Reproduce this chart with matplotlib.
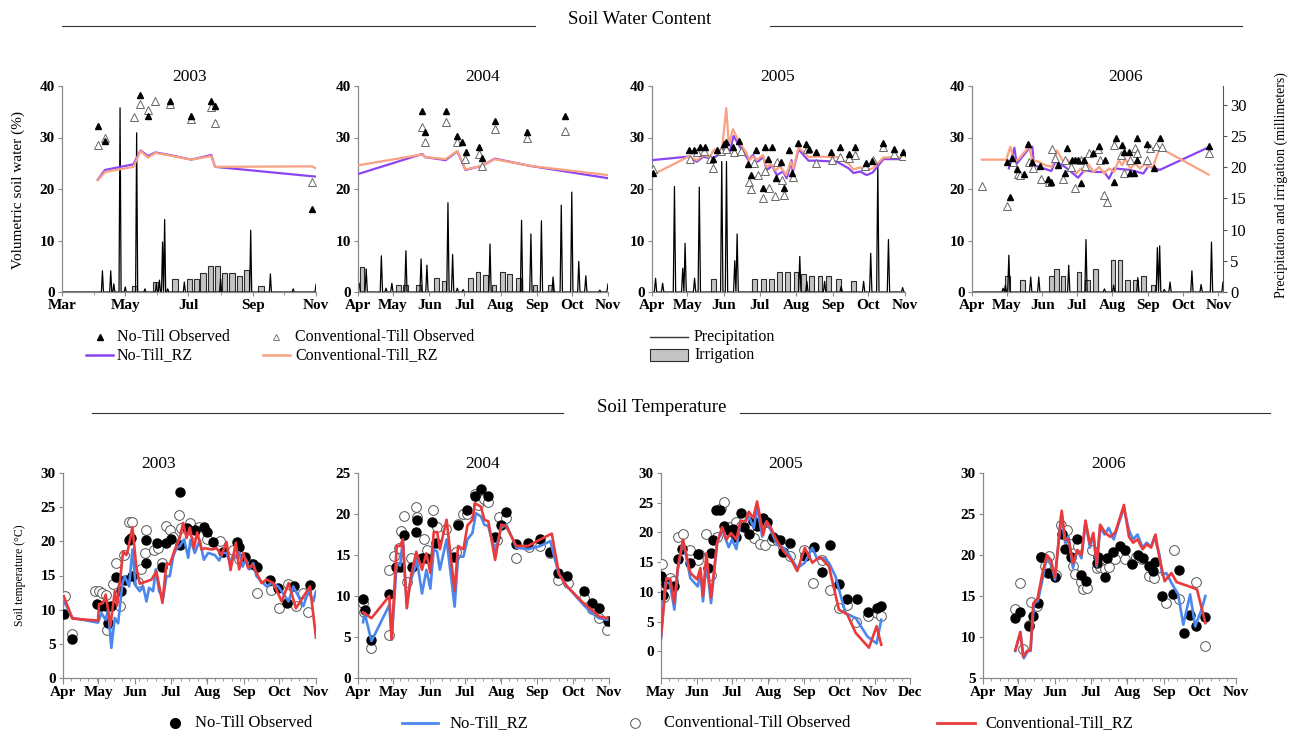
import numpy as np
import matplotlib
matplotlib.use("Agg")
import matplotlib.pyplot as plt
from matplotlib.lines import Line2D
from matplotlib.patches import Rectangle

plt.rcParams['font.family'] = ['Liberation Serif', 'DejaVu Serif']

W, H = 1293, 732

# ---------------- month positions (day of year) ----------------
month_names = ['Mar', 'Apr', 'May', 'Jun', 'Jul', 'Aug', 'Sep', 'Oct', 'Nov', 'Dec']
month_doy = [60, 91, 121, 152, 182, 213, 244, 274, 305, 335]

# ================= SOIL WATER CONTENT (%) =================
# 2003
swc03_nt_obs = [(94.5, 32.2), (101.5, 29.3), (135.7, 38.2), (143, 34.2), (164, 37.1), (184.6, 34.2),
                (204, 37.1), (207.6, 36.2), (301, 16.1)]
swc03_ct_obs = [(94.5, 28.6), (101.5, 29.9), (129, 33.9), (135.7, 36.5), (143, 35.3), (150, 37.1),
                (164, 36.5), (184.6, 33.5), (204, 36.0), (207.6, 32.9), (301, 21.3)]
swc03_nt_rz = [(94.5, 21.8), (101.5, 23.7), (129, 24.8), (135.7, 27.5), (143, 26.4), (150, 27.1),
               (164, 26.6), (184.6, 25.7), (204, 26.6), (207.6, 24.3), (305, 22.4)]
swc03_ct_rz = [(94.5, 21.7), (101.5, 23.3), (129, 24.3), (135.7, 27.4), (143, 26.1), (150, 27.0),
               (164, 26.5), (184.6, 25.7), (204, 26.4), (207.6, 24.3), (301, 24.4), (305, 24.0)]
prcp03 = [(99, 3.4), (107, 3.4), (110, 1.3), (116, 29.5), (121, 0.8), (132, 25.5), (140, 0.5), (151, 1.4),
          (154, 1.9), (157, 8.0), (159, 11.6), (162, 0.5), (178, 1.6), (213, 2.1), (242, 9.9), (261, 2.9),
          (283, 0.5), (305, 1.2)]
irr03 = [(130, 0.9), (150, 1.6), (169, 2.1), (183, 2.1), (189.5, 2.1), (196, 3.1), (203, 4.2), (210, 4.2),
         (217, 3.1), (224, 3.1), (231, 2.6), (238, 3.5), (252, 1.0)]

# 2004
swc04_nt_obs = [(146, 35.2), (148.3, 31.1), (166, 35.2), (176, 30.2), (180.3, 29.2), (183.7, 27.2),
                (195, 28.2), (197.4, 26.1), (208, 33.3), (235.7, 31.1), (268, 34.2)]
swc04_ct_obs = [(146, 32.0), (148.3, 29.2), (166, 33.1), (176, 29.2), (183, 25.8), (195, 26.7),
                (197.4, 24.5), (208, 31.7), (235.7, 30.0), (268, 31.3)]
swc04_nt_rz = [(91, 22.9), (146, 26.8), (148.3, 26.2), (166, 25.6), (176, 27.3), (183, 23.7),
               (197.4, 24.5), (208, 25.9), (238, 24.5), (305, 22.1)]
swc04_ct_rz = [(91, 24.6), (146, 26.7), (148.3, 26.2), (166, 25.8), (176, 27.4), (183, 23.8),
               (197.4, 24.5), (208, 25.8), (238, 24.5), (305, 22.7)]
prcp04 = [(92, 1.4), (98, 3.7), (111, 5.8), (115, 0.6), (120, 1.4), (132, 6.6), (145, 5.3), (150, 4.3),
          (168, 14.3), (172, 6.0), (176, 0.6), (181, 0.4), (204, 7.7), (231, 11.5), (239, 9.3), (248, 11.4),
          (258, 2.4), (265, 13.9), (274, 16.0), (280, 4.9), (286, 2.6), (298, 0.3), (305, 1.3)]
irr04 = [(94.4, 4.0), (126, 1.1), (132, 1.1), (143, 1.1), (158, 2.2), (164.6, 1.7), (187.4, 2.2),
         (193.7, 3.2), (200, 2.7), (207.4, 1.1), (214.5, 3.2), (221, 2.9), (228.5, 2.2), (242.5, 1.1),
         (256, 1.1)]

# 2005
swc05_nt_obs = [(91.6, 23.1), (122, 27.5), (126.8, 27.5), (131.8, 28.1), (136, 28.1), (143, 25.9),
                (146, 27.6), (151.5, 28.7), (153.8, 29.2), (159.4, 28.1), (165, 29.4), (172.4, 24.8),
                (174.6, 22.7), (178.6, 27.6), (185.3, 20.2), (186.5, 28.1), (189, 25.8), (192.7, 28.1),
                (195.5, 22.1), (200.5, 25.3), (202.8, 20.1), (207.3, 27.5), (209.8, 23.1), (214.6, 29.0),
                (221.4, 28.7), (223.6, 27.7), (229.5, 27.1), (242, 27.1), (250, 28.1), (257.4, 26.7),
                (263, 28.1), (272, 25.1), (276.9, 25.5), (286.7, 29.0), (295.7, 27.8), (303, 27.1)]
swc05_ct_obs = [(91.6, 23.9), (123.4, 25.8), (129, 27.1), (134.6, 27.3), (139.7, 25.8), (143, 24.0),
                (149.3, 27.3), (153.2, 27.7), (160, 27.1), (166.2, 27.3), (173, 21.3), (174.6, 20.0),
                (177.5, 25.1), (180.8, 22.7), (185.3, 18.2), (187, 23.4), (189.8, 20.1), (194.9, 18.7),
                (196.6, 25.3), (201, 21.8), (202.8, 18.9), (210, 22.3), (222, 27.7), (229.3, 25.1),
                (243.3, 25.6), (250, 26.3), (257.4, 26.0), (263, 26.6), (271.2, 24.4), (277.7, 25.6),
                (286.7, 28.1), (295.7, 26.7), (303, 26.4)]
swc05_nt_rz = [(91, 25.6), (122, 26.3), (129, 25.3), (134.6, 26.3), (141.7, 25.8), (148.7, 26.9),
               (153.2, 28.6), (156.6, 27.1), (160, 30.3), (165.6, 28.1), (172.7, 25.6), (176.3, 26.6),
               (180.3, 25.3), (185.3, 26.2), (188, 23.7), (192.7, 24.5), (196.6, 22.7), (201.7, 23.4),
               (205, 22.1), (209, 25.6), (210, 23.2), (215, 27.7), (223.3, 25.5), (230.4, 25.5),
               (247.3, 25.3), (257.4, 24.0), (261.4, 23.1), (267, 23.4), (272.6, 22.7), (277.7, 23.2),
               (286.7, 25.8), (305, 25.8)]
swc05_ct_rz = [(91, 22.7), (122, 26.3), (129, 25.6), (134.6, 26.6), (139.7, 26.2), (143.7, 27.7),
               (147.6, 27.3), (150.4, 28.1), (153.8, 35.7), (156, 28.7), (159.4, 31.6), (165, 29.0),
               (170.7, 27.1), (173.5, 25.6), (176.3, 26.3), (179.7, 25.6), (184.8, 26.6), (188, 24.2),
               (191.5, 24.9), (195.5, 23.6), (199.4, 24.4), (204.5, 22.7), (208.4, 25.3), (210.7, 24.0),
               (215, 28.1), (223.3, 26.2), (230.4, 26.3), (247.3, 26.2), (257.4, 24.9), (261.4, 23.8),
               (267, 24.2), (272.6, 23.7), (277.7, 24.0), (286.7, 26.1), (305, 26.2)]
prcp05 = [(94, 2.2), (100, 1.4), (110, 16.9), (117, 3.8), (119, 7.8), (127, 2.2), (131, 16.8), (150, 20.9),
          (154, 20.9), (161, 5.0), (163, 9.3), (216, 5.7), (222, 1.7), (237, 1.7), (251, 0.9), (270, 1.7),
          (276, 6.2), (282, 20.6), (291, 8.4), (303, 0.7)]
irr05 = [(143, 2.1), (177.7, 2.1), (185.3, 2.1), (191.8, 2.1), (198.9, 3.2), (205.6, 3.2), (212.7, 3.2),
         (219, 2.9), (226.2, 2.6), (233.2, 2.6), (240.2, 2.6), (248.7, 2.1), (261.4, 1.7)]

# 2006
swc06_nt_obs = [(121.3, 25.3), (123.6, 18.5), (125.9, 26.1), (129.8, 23.8), (136.3, 23.0), (140, 28.8),
                (142.9, 25.3), (149.7, 24.4), (157, 22.0), (159.9, 21.4), (166.1, 24.6), (171.8, 23.1),
                (173.8, 27.9), (178, 25.7), (180.8, 25.7), (183, 25.6), (186, 21.1), (188.2, 25.7),
                (195.9, 27.0), (201.5, 28.3), (206.3, 25.6), (214.3, 21.4), (216.5, 30.0), (221.4, 28.5),
                (222.8, 27.2), (227, 27.2), (228.4, 23.1), (231.3, 23.1), (234.1, 25.6), (234.7, 30.0),
                (242.6, 28.7), (248.9, 24.0), (254, 30.0), (296.5, 28.3)]
swc06_ct_obs = [(99.5, 20.5), (121.3, 16.7), (126.4, 25.3), (130.7, 23.0), (132.7, 22.7), (140.6, 25.3),
                (144.3, 24.0), (150.5, 22.0), (157.6, 21.4), (160.4, 27.7), (163.3, 26.1), (169.8, 22.0),
                (171.8, 25.6), (176.9, 24.3), (180.3, 20.1), (185.4, 25.6), (188.8, 24.4), (193, 27.0),
                (200.1, 27.7), (202.4, 25.7), (205.8, 18.8), (208.6, 17.5), (214.3, 28.5), (220.5, 26.6),
                (223.4, 23.1), (228.5, 25.6), (232.7, 27.9), (234.7, 26.9), (242.6, 25.6), (245.5, 27.9),
                (251.1, 28.3), (256.2, 28.1), (297, 27.0)]
swc06_nt_rz = [(123, 24.0), (127.8, 28.0), (129.8, 24.9), (140.6, 27.9), (143.4, 28.2), (144.8, 24.6),
               (159.9, 23.5), (163.3, 25.3), (171.8, 24.3), (183.1, 22.2), (188.8, 23.7), (197.3, 23.3),
               (205.8, 23.3), (210, 22.0), (214.3, 24.0), (228.5, 23.7), (239.8, 23.0), (244, 24.4),
               (254, 23.7), (296.5, 28.1)]
swc06_ct_rz = [(99.5, 25.7), (120.8, 25.7), (124.2, 28.2), (127.8, 25.3), (132, 25.9), (135.5, 26.9),
               (140.6, 28.2), (143.4, 25.6), (149, 25.3), (154.8, 24.6), (160.4, 24.3), (164.7, 27.5),
               (170.4, 25.3), (174.6, 25.6), (177.4, 24.0), (181.7, 23.0), (185.4, 24.0), (188.8, 23.3),
               (192.2, 24.8), (196.7, 23.3), (201.5, 24.3), (205.8, 23.0), (210, 24.0), (214.3, 23.3),
               (218.5, 25.6), (221.4, 24.6), (224.2, 25.9), (228.5, 24.0), (232.7, 24.9), (237, 24.0),
               (241.2, 24.9), (244, 24.3), (248.3, 24.3), (254, 28.0), (296.5, 22.8)]
prcp06 = [(91, 1.6), (118, 0.6), (120, 1.1), (123, 5.9), (142, 2.4), (149, 2.4), (175, 4.3), (190, 8.4),
          (206, 0.5), (214, 1.1), (235, 2.3), (252, 7.1), (254, 7.4), (258, 0.4), (263, 1.6), (282, 3.4),
          (290, 1.2), (299, 8.0)]
irr06 = [(121.9, 2.5), (135, 1.9), (159.9, 2.5), (164.4, 3.7), (170, 2.5), (184.2, 3.2), (191.3, 1.9),
         (198.1, 3.7), (213.4, 5.2), (219.4, 5.1), (225.9, 1.9), (233, 1.9), (239.8, 2.5), (248, 1.2)]

# ================= SOIL TEMPERATURE (deg C) =================
st03_nt_obs = [(91.6, 9.4), (98.9, 5.7), (119.8, 10.9), (123.5, 10.6), (127.1, 10.6), (129.1, 8.0),
               (131.4, 10.5), (136.2, 14.8), (140.4, 12.8), (143.2, 14.3), (146.6, 20.2), (148.9, 20.5),
               (149.7, 15.0), (161, 16.9), (161.6, 20.2), (170.6, 19.8), (174.6, 16.2), (178, 19.8),
               (182.7, 20.3), (189.8, 27.2), (189.8, 19.4), (195.5, 22.0), (202.5, 21.7), (210.1, 22.1),
               (212.4, 21.3), (218, 19.9), (226, 18.5), (237.8, 19.9), (240, 19.2), (244.9, 17.7),
               (251.9, 16.7), (254.7, 16.2), (266, 14.3), (273, 13.2), (280.7, 11.0), (286.3, 13.5),
               (299.9, 13.6)]
st03_ct_obs = [(92.4, 12.0), (98.9, 6.4), (117.8, 12.7), (121.5, 12.8), (124.3, 12.4), (127.1, 12.2),
               (128.3, 7.0), (133.3, 13.8), (135.6, 16.9), (139.5, 10.6), (142.4, 18.0), (146.9, 22.9),
               (149.7, 22.9), (154.5, 14.1), (157.3, 15.9), (160.4, 18.3), (161.6, 21.6), (167.8, 18.8),
               (171.5, 19.0), (174.6, 16.9), (178, 22.3), (181.9, 21.6), (184.2, 20.7), (189, 23.9),
               (191.2, 21.9), (198.3, 22.7), (201.7, 21.2), (206.2, 22.1), (213, 20.3), (223.7, 20.0),
               (234.4, 18.8), (240, 17.4), (249.6, 16.7), (254.7, 12.4), (266.6, 12.9), (273.9, 10.2),
               (281.6, 13.7), (287.8, 10.5), (294.3, 12.4), (298.5, 9.6)]
st03_nt_rz = [(91.6, 11.3), (98.9, 8.8), (120.6, 8.1), (123.5, 9.5), (127.1, 8.5), (129.1, 10.0),
              (131.9, 4.4), (134.8, 8.8), (137.6, 8.0), (141.3, 13.9), (143.2, 14.9), (146.9, 13.4),
              (149.7, 18.8), (152.5, 13.5), (155.9, 12.7), (158.8, 13.4), (161.6, 11.2), (163.8, 13.2),
              (167.2, 12.7), (169.5, 15.9), (172.3, 12.7), (175.7, 11.7), (178.5, 14.9), (181.3, 14.9),
              (184.2, 17.8), (187, 19.0), (189.8, 19.3), (193.5, 20.3), (196.9, 17.6), (198.8, 20.2),
              (202.5, 18.3), (206.7, 20.2), (210.1, 17.3), (213.8, 18.3), (219.4, 18.0), (223.1, 17.2),
              (226, 18.3), (229.3, 18.3), (232.2, 16.8), (235, 18.0), (237.8, 17.6), (240, 18.4),
              (242.9, 16.3), (245.7, 17.4), (248.5, 15.9), (251.9, 16.8), (254.7, 14.9), (259, 14.1),
              (263.2, 13.4), (267.4, 13.9), (273, 13.4), (277.9, 12.2), (281.8, 11.2), (285.8, 13.4),
              (290, 12.0), (294.3, 10.5), (298.5, 12.7), (302.7, 11.2), (305, 12.7)]
st03_ct_rz = [(91.6, 12.0), (98.9, 8.7), (120.6, 8.4), (121.5, 10.8), (124.9, 11.0), (127.1, 12.2),
              (129.1, 10.0), (131.1, 7.6), (134.8, 12.7), (136.7, 10.6), (139.5, 14.6), (141.8, 18.5),
              (144.6, 18.0), (146, 18.8), (149.7, 22.1), (153.1, 16.1), (155.9, 13.8), (161, 14.1),
              (165.8, 14.4), (170, 15.6), (175.1, 11.0), (178.5, 16.8), (181.3, 16.6), (185.6, 18.8),
              (189.8, 20.5), (192.6, 22.7), (195.5, 20.5), (198.3, 22.0), (201.7, 19.0), (204.5, 21.3),
              (208.2, 18.8), (211, 19.0), (216.6, 18.8), (220.9, 19.0), (225.1, 18.0), (229.3, 19.9),
              (232.7, 15.8), (237.2, 19.8), (240, 15.9), (243.4, 18.3), (247.7, 16.1), (251.3, 16.6),
              (254.7, 15.4), (259, 13.9), (263.2, 14.4), (268.9, 13.9), (276, 11.2), (281.8, 13.9),
              (288, 10.2), (299.9, 13.4), (305, 5.9)]

st04_nt_obs = [(95.3, 9.6), (96.7, 8.3), (102.5, 4.6), (117.7, 10.3), (123.5, 13.5), (127, 13.5),
               (130.3, 17.4), (137, 13.5), (140.4, 17.8), (141.3, 19.3), (145.6, 14.6), (148.7, 14.6),
               (154.5, 19.0), (157.3, 16.5), (172.8, 14.8), (176.3, 18.6), (184.3, 20.5), (190.7, 22.2),
               (195.8, 23.0), (202.1, 22.2), (207.9, 17.2), (212.5, 18.6), (217.4, 20.2), (226, 16.4),
               (236, 16.5), (246.4, 16.9), (255, 15.4), (261.9, 12.8), (269.1, 12.4), (283.4, 10.6),
               (290.6, 9.2), (296.4, 8.5), (304.1, 6.9)]
st04_ct_obs = [(95.3, 9.2), (96.2, 8.0), (102.5, 3.7), (117.7, 5.3), (117.7, 13.2), (121.7, 14.9),
               (125.8, 15.9), (128, 17.9), (130.3, 19.8), (133.2, 11.7), (136.4, 14.6), (140.7, 20.9),
               (141.3, 19.6), (147, 16.9), (149.9, 15.6), (155, 20.5), (158.5, 18.4), (166.1, 18.2),
               (174.3, 15.4), (176.6, 18.8), (180.9, 20.0), (184.3, 20.0), (190.7, 22.5), (193.5, 21.1),
               (198.1, 21.8), (201.6, 21.5), (209.6, 16.8), (211.6, 19.6), (217.4, 19.5), (226, 14.6),
               (236.9, 16.0), (246.4, 16.1), (255, 15.3), (261.9, 12.0), (269.9, 11.6), (283.4, 9.8),
               (290.6, 8.4), (296.4, 7.3), (303.5, 5.9)]
st04_nt_rz = [(95.3, 6.8), (96.7, 7.9), (102.5, 4.5), (117.7, 8.9), (119.7, 4.7), (124, 14.0), (127, 13.7),
              (129.2, 16.9), (132.6, 8.9), (135.5, 11.6), (141.3, 14.3), (145.6, 10.3), (149.3, 13.2),
              (152.7, 10.9), (155.6, 15.7), (158.5, 15.4), (160.8, 13.2), (166.5, 16.9), (173.4, 8.7),
              (176.3, 14.8), (180.9, 14.8), (184.3, 16.9), (188.6, 17.7), (191.5, 20.1), (195.8, 19.7),
              (198.7, 18.7), (202.1, 18.5), (207.9, 15.4), (213.1, 18.3), (217.4, 18.7), (226, 15.9),
              (236, 15.7), (246.4, 16.1), (255, 16.7), (261.9, 12.8), (269.1, 11.2), (283.4, 8.9),
              (290.6, 7.9), (296.4, 7.3), (303.5, 7.1)]
st04_ct_rz = [(95.3, 8.0), (102.5, 7.3), (117.7, 10.0), (119.7, 4.7), (124, 16.1), (127, 16.1),
              (129.2, 16.9), (132.6, 8.5), (136.1, 12.4), (140.7, 15.4), (145.6, 13.2), (149.3, 15.2),
              (152.7, 12.8), (155.6, 17.8), (158.5, 17.8), (160.8, 15.7), (166.5, 19.3), (173.4, 10.6),
              (176.3, 16.1), (180.9, 15.7), (184.3, 18.6), (188.6, 19.3), (190.7, 21.3), (195.8, 20.9),
              (198.7, 19.3), (202.1, 19.1), (207.9, 14.4), (213.1, 18.7), (217.4, 18.5), (226, 16.1),
              (236, 16.1), (246.4, 16.9), (256.2, 17.6), (262.5, 12.6), (269.1, 11.2), (283.4, 9.1),
              (290.6, 8.3), (296.4, 7.5), (303.5, 7.3)]

st05_nt_obs = [(121, 12.6), (122.7, 9.5), (125.6, 11.4), (131.9, 10.9), (135.3, 15.5), (139.1, 17.2),
               (146.2, 14.9), (152.6, 16.4), (161.2, 14.0), (164, 16.5), (165.8, 18.8), (168.6, 23.7),
               (172.1, 23.7), (175.5, 21.1), (180.7, 20.2), (183, 20.5), (185.8, 19.3), (189.9, 23.2),
               (192.7, 20.9), (196.5, 19.7), (200.2, 22.0), (203.6, 21.0), (208.8, 22.4), (212.2, 21.7),
               (217.4, 19.3), (223.1, 18.8), (226, 16.7), (231.7, 18.2), (244.6, 16.0), (252.4, 17.5),
               (259.6, 13.3), (266.2, 17.9), (273.9, 11.4), (281.1, 8.8), (289.1, 8.8), (298.9, 6.6),
               (306.3, 7.3), (310.3, 7.7)]
st05_ct_obs = [(121.9, 14.7), (123.9, 9.1), (128.5, 12.3), (131.3, 11.8), (135.3, 19.2), (139.9, 19.8),
               (145.7, 17.0), (152.6, 15.4), (154, 16.4), (160, 19.8), (164, 12.9), (169.2, 19.3),
               (172.6, 24.1), (175.5, 25.1), (179.2, 20.9), (185.8, 21.7), (189.9, 21.1), (196.5, 20.9),
               (200.8, 19.1), (205.9, 18.1), (210.8, 17.8), (216.5, 18.8), (220.3, 18.7), (226, 17.5),
               (231.7, 16.1), (243.8, 17.1), (251.8, 11.5), (259.6, 15.3), (266.2, 10.3), (273.9, 7.3),
               (281.1, 7.8), (288.3, 4.9), (298.9, 5.9), (306.3, 6.4), (310.3, 5.9)]
st05_nt_rz = [(121, 2.0), (124.7, 11.5), (128.5, 11.5), (132.5, 7.0), (135.3, 13.5), (139.9, 18.7),
              (146.2, 12.3), (152.6, 10.9), (154.9, 13.2), (157.1, 8.4), (160, 15.0), (164, 8.1),
              (169.2, 18.2), (173.5, 20.5), (179.2, 17.5), (182.1, 18.8), (185.8, 17.2), (189.3, 21.9),
              (193.6, 21.9), (196.5, 22.7), (200.8, 20.7), (203.6, 24.4), (208, 19.3), (210.8, 21.6),
              (215.1, 20.5), (220.8, 17.9), (226.6, 17.4), (230.9, 16.3), (238.1, 14.0), (244.6, 14.9),
              (251, 17.4), (255.3, 15.5), (261, 15.7), (265.3, 14.9), (271, 12.6), (274.8, 9.8),
              (279.7, 6.4), (288.3, 5.6), (298.3, 2.5), (306.3, 1.3), (310.3, 5.3)]
st05_ct_rz = [(121, 2.5), (125.6, 12.3), (129, 12.1), (132.5, 8.1), (135.3, 14.0), (139.9, 18.8),
              (146.2, 13.2), (152, 12.1), (154.9, 14.0), (157.1, 9.3), (160, 16.5), (164, 9.0),
              (169.2, 18.2), (173.5, 20.9), (177.2, 18.8), (181.2, 19.9), (185.8, 18.8), (189.3, 21.9),
              (193.6, 21.9), (196.5, 23.5), (200.2, 22.4), (203.6, 25.2), (208.8, 19.6), (211.7, 21.9),
              (215.1, 20.9), (220.8, 18.5), (226.6, 16.8), (232.9, 15.4), (238.1, 13.5), (244.6, 17.4),
              (251, 14.9), (257.6, 15.9), (265.3, 14.3), (273.9, 7.0), (281.1, 6.2), (288.3, 3.1),
              (299.7, 0.6), (306.3, 4.2), (310.3, 1.1)]

st06_nt_obs = [(118.3, 12.3), (122.6, 13.1), (129.8, 11.3), (133.5, 12.6), (137.5, 14.1), (139.8, 19.8),
               (145.6, 17.8), (151.9, 17.3), (157.6, 22.6), (160.5, 20.7), (165.1, 19.8), (170.8, 22.0),
               (173.7, 17.6), (177.7, 16.8), (187.2, 19.0), (188.1, 19.8), (193.8, 17.3), (195.8, 19.6),
               (200.7, 20.4), (207.3, 21.1), (211, 20.6), (217.4, 18.9), (222.5, 20.0), (226, 19.6),
               (231.2, 18.6), (234.6, 18.1), (236.9, 19.1), (242.6, 15.0), (251.8, 15.3), (257, 18.2),
               (261, 10.5), (266.2, 12.7), (271.4, 11.3), (279.1, 12.5)]
st06_ct_obs = [(118.3, 13.4), (122.6, 16.6), (124.9, 8.5), (129.8, 11.5), (131.8, 14.3), (137, 13.8),
               (139.8, 19.8), (143.3, 18.6), (147, 19.9), (152.7, 17.6), (157, 23.7), (162.2, 23.0),
               (165.1, 21.4), (167.1, 18.7), (169.1, 17.7), (171.4, 21.1), (173.7, 16.7), (175.7, 15.8),
               (178.6, 16.0), (182.9, 20.6), (187.2, 18.4), (190.1, 18.5), (194.4, 18.3), (197.3, 18.5),
               (203, 19.5), (211, 19.5), (217.4, 19.0), (220.2, 19.8), (225.4, 19.5), (231.2, 17.5),
               (236, 17.2), (238, 18.4), (245.5, 14.2), (252.4, 20.6), (257, 14.6), (271.4, 16.7),
               (279.1, 8.9)]
st06_nt_rz = [(118.3, 8.3), (122.6, 10.6), (125.5, 7.4), (129, 8.3), (131.2, 8.3), (134.1, 14.1),
              (137.5, 14.4), (141.3, 17.0), (145, 19.8), (148.4, 19.2), (151.9, 17.0), (157.1, 24.9),
              (160.5, 21.5), (163.4, 22.2), (167.1, 18.4), (170.8, 20.6), (174.3, 19.6), (177.7, 24.0),
              (181.5, 20.9), (184.3, 22.5), (187.2, 18.6), (190.1, 23.3), (193.8, 22.5), (197.3, 23.3),
              (201.6, 21.9), (205.9, 23.9), (210.2, 25.7), (214.5, 23.0), (218, 21.9), (221.7, 22.5),
              (226, 20.9), (229.4, 21.5), (233.2, 21.0), (236, 22.2), (240.3, 20.0), (242.6, 17.6),
              (246.1, 17.8), (250.4, 16.6), (256.1, 15.2), (260.4, 11.5), (266.2, 15.2), (270.5, 11.3),
              (276.2, 13.5), (279.1, 15.0)]
st06_ct_rz = [(118.3, 8.4), (122.6, 10.6), (124.9, 7.6), (128.3, 8.3), (131.2, 8.4), (133.5, 14.1),
              (137, 14.6), (141.3, 17.8), (145, 20.0), (148.4, 19.4), (151.9, 17.3), (157.6, 25.4),
              (160.5, 21.9), (163.4, 21.9), (167.1, 19.0), (170.8, 20.6), (174.3, 20.0), (177.7, 24.2),
              (181.5, 21.3), (184.3, 22.7), (187.2, 18.8), (190.1, 23.7), (194.4, 22.7), (198.7, 22.2),
              (203, 22.8), (210.2, 26.1), (214.5, 22.2), (218, 21.5), (221.7, 21.9), (226, 20.7),
              (229.4, 21.3), (233.2, 20.9), (236.9, 22.5), (240.3, 19.6), (244.6, 16.8), (250.4, 17.8),
              (254.7, 16.7), (264.8, 16.2), (272, 15.8), (279.1, 11.7)]

# ---------------- styling ----------------
C_NT_RZ = '#8B45F2'
C_CT_RZ = '#F9A282'
C_BLUE = '#4A88EE'
C_RED = '#EA3A3C'
SPINE = '#8a8a8a'
TICK_SIZE = 11


def px(x, y):
    return x / W, 1 - y / H


def axes_px(x0, y0, x1, y1):
    return fig.add_axes([x0 / W, 1 - y1 / H, (x1 - x0) / W, (y1 - y0) / H])


def xy(pairs):
    a = np.array(pairs, dtype=float)
    return a[:, 0], a[:, 1]


def base_style(ax, xlim, ylim, yticks, months, minor_months=(), minor_step=None):
    ax.set_xlim(*xlim)
    ax.set_ylim(*ylim)
    ax.set_yticks(yticks)
    ax.set_yticklabels([str(v) for v in yticks])
    ticks = [month_doy[month_names.index(m)] for m in months]
    ax.set_xticks(ticks)
    ax.set_xticklabels(months)
    if minor_months:
        ax.set_xticks([month_doy[month_names.index(m)] for m in minor_months], minor=True)
    elif minor_step:
        ax.set_xticks(np.arange(xlim[0], xlim[1] + 0.1, minor_step), minor=True)
    for s in ['top', 'right']:
        ax.spines[s].set_visible(False)
    for s in ['left', 'bottom']:
        ax.spines[s].set_color(SPINE)
        ax.spines[s].set_linewidth(0.9)
    ax.tick_params(axis='both', which='major', length=3, width=0.8, color=SPINE,
                   labelsize=TICK_SIZE, pad=2)
    ax.tick_params(axis='both', which='minor', length=2, width=0.6, color=SPINE)
    for lab in ax.get_xticklabels() + ax.get_yticklabels():
        lab.set_fontweight('bold')
    ax.patch.set_visible(False)


def daily(events, start, end):
    days = np.arange(start, end + 1)
    vals = np.zeros(len(days))
    for d, v in events:
        vals[int(round(d)) - start] = v
    return days, vals


fig = plt.figure(figsize=(W / 100, H / 100), dpi=100)

# ---------------- Soil water panels ----------------
top_boxes = [(62, 86, 316, 292), (358, 86, 608, 292), (652, 86, 905, 292), (972, 86, 1223, 292)]
top_xlims = [(60, 305), (91, 305), (91, 305), (91, 309)]
top_months = [['Mar', 'May', 'Jul', 'Sep', 'Nov'],
              ['Apr', 'May', 'Jun', 'Jul', 'Aug', 'Sep', 'Oct', 'Nov'],
              ['Apr', 'May', 'Jun', 'Jul', 'Aug', 'Sep', 'Oct', 'Nov'],
              ['Apr', 'May', 'Jun', 'Jul', 'Aug', 'Sep', 'Oct', 'Nov']]
top_titles = [('2003', 190), ('2004', 483), ('2005', 778), ('2006', 1126)]
swc_sets = [
    (swc03_nt_obs, swc03_ct_obs, swc03_nt_rz, swc03_ct_rz, prcp03, irr03, 5.0),
    (swc04_nt_obs, swc04_ct_obs, swc04_nt_rz, swc04_ct_rz, prcp04, irr04, 4.2),
    (swc05_nt_obs, swc05_ct_obs, swc05_nt_rz, swc05_ct_rz, prcp05, irr05, 4.0),
    (swc06_nt_obs, swc06_ct_obs, swc06_nt_rz, swc06_ct_rz, prcp06, irr06, 3.8),
]

for i, (box, xl, months, (title, tx), data) in enumerate(zip(top_boxes, top_xlims, top_months,
                                                                top_titles, swc_sets)):
    nt_obs, ct_obs, nt_rz, ct_rz, prcp, irr, bw = data
    ax = axes_px(*box)
    ax2 = ax.twinx()
    ax2.set_position(ax.get_position())
    ax.set_zorder(ax2.get_zorder() + 1)
    # precipitation & irrigation on secondary axis
    ax2.set_ylim(0, 33)
    ax2.set_xlim(*xl)
    ix, iv = xy(irr)
    ax2.bar(ix, iv, width=bw, color='#c4c4c4', edgecolor='#2b2b2b', linewidth=0.8, zorder=2)
    dd, dv = daily(prcp, int(xl[0]) + 1, int(xl[1]))
    ax2.plot(dd, dv, color='black', lw=0.9, zorder=3)
    for s in ['top', 'left', 'bottom']:
        ax2.spines[s].set_visible(False)
    if i == 3:
        ax2.set_yticks([0, 5, 10, 15, 20, 25, 30])
        ax2.spines['right'].set_color('#555555')
        ax2.tick_params(axis='y', length=3, color='#555555', labelsize=12, pad=2)
    else:
        ax2.spines['right'].set_visible(False)
        ax2.set_yticks([])
    # soil water
    base_style(ax, xl, (0, 40), [0, 10, 20, 30, 40], months,
               minor_months=(['Apr', 'Jun', 'Aug', 'Oct'] if i == 0 else ()))
    x, y = xy(nt_rz)
    ax.plot(x, y, color=C_NT_RZ, lw=1.6, zorder=3)
    x, y = xy(ct_rz)
    ax.plot(x, y, color=C_CT_RZ, lw=1.6, zorder=4)
    x, y = xy(ct_obs)
    ax.plot(x, y, ls='none', marker='^', ms=6, mfc='white', mec='#666666', mew=0.7, zorder=5)
    x, y = xy(nt_obs)
    ax.plot(x, y, ls='none', marker='^', ms=5, mfc='black', mec='black', zorder=6)
    fig.text(*px(tx, 77), title, ha='center', va='center', fontsize=12.5)

# ---------------- Soil temperature panels ----------------
bot_boxes = [(63, 473, 316, 678), (358, 473, 609, 678), (661, 473, 910, 678), (983, 473, 1236, 678)]
bot_xlims = [(91, 305), (91, 305), (121, 335), (91, 305)]
bot_ylims = [(0, 30), (0, 25), (-4.5, 30), (5, 30)]
bot_yticks = [[0, 5, 10, 15, 20, 25, 30], [0, 5, 10, 15, 20, 25], [0, 5, 10, 15, 20, 25, 30],
              [5, 10, 15, 20, 25, 30]]
bot_months = [['Apr', 'May', 'Jun', 'Jul', 'Aug', 'Sep', 'Oct', 'Nov'],
              ['Apr', 'May', 'Jun', 'Jul', 'Aug', 'Sep', 'Oct', 'Nov'],
              ['May', 'Jun', 'Jul', 'Aug', 'Sep', 'Oct', 'Nov', 'Dec'],
              ['Apr', 'May', 'Jun', 'Jul', 'Aug', 'Sep', 'Oct', 'Nov']]
bot_titles = [('2003', 159), ('2004', 483), ('2005', 786), ('2006', 1109)]
st_sets = [
    (st03_nt_obs, st03_ct_obs, st03_nt_rz, st03_ct_rz),
    (st04_nt_obs, st04_ct_obs, st04_nt_rz, st04_ct_rz),
    (st05_nt_obs, st05_ct_obs, st05_nt_rz, st05_ct_rz),
    (st06_nt_obs, st06_ct_obs, st06_nt_rz, st06_ct_rz),
]
for box, xl, yl, yt, months, (title, tx), data in zip(bot_boxes, bot_xlims, bot_ylims, bot_yticks,
                                                       bot_months, bot_titles, st_sets):
    nt_obs, ct_obs, nt_rz, ct_rz = data
    ax = axes_px(*box)
    base_style(ax, xl, yl, yt, months, minor_step=7.13)
    ax.tick_params(axis='x', which='major', length=4)
    x, y = xy(ct_obs)
    ax.plot(x, y, ls='none', marker='o', ms=7, mfc='white', mec='#555555', mew=0.7, zorder=3)
    x, y = xy(nt_obs)
    ax.plot(x, y, ls='none', marker='o', ms=6.5, mfc='black', mec='black', zorder=4)
    x, y = xy(nt_rz)
    ax.plot(x, y, color=C_BLUE, lw=1.9, zorder=5)
    x, y = xy(ct_rz)
    ax.plot(x, y, color=C_RED, lw=1.9, zorder=6)
    fig.text(*px(tx, 464), title, ha='center', va='center', fontsize=12.5)

# ---------------- axis labels ----------------
fig.text(*px(18, 190), 'Volumetric soil water (%)', rotation=90, ha='center', va='center', fontsize=11)
fig.text(*px(1281, 185), 'Precipitation and irrigation (millimeters)', rotation=90, ha='center',
         va='center', fontsize=10)
fig.text(*px(20, 575), 'Soil temperature (°C)', rotation=90, ha='center', va='center', fontsize=8.5)


# ---------------- section headers ----------------
def hline(x0, x1, y, color='#333333', lw=0.8):
    fig.add_artist(Line2D([x0 / W, x1 / W], [1 - y / H, 1 - y / H], transform=fig.transFigure,
                          color=color, lw=lw))


fig.text(*px(640, 20), 'Soil Water Content', ha='center', va='center', fontsize=13.5)
hline(62, 535, 26)
hline(770, 1242, 26)
fig.text(*px(662, 407), 'Soil Temperature', ha='center', va='center', fontsize=13.5)
hline(92, 563, 413)
hline(740, 1270, 413)


# ---------------- legends ----------------
def marker(x, y, **kw):
    fig.add_artist(Line2D([x / W], [1 - y / H], transform=fig.transFigure, ls='none', **kw))


def ltext(x, y, s, size=11.5):
    fig.text(*px(x, y), s, ha='left', va='center', fontsize=size)


# top legend
marker(100, 337, marker='^', ms=4.5, mfc='black', mec='black')
ltext(117, 337, 'No-Till Observed')
marker(276, 337, marker='^', ms=5, mfc='white', mec='#777777', mew=0.7)
ltext(295, 337, 'Conventional-Till Observed')
hline(650, 688, 337, color='#333333', lw=1.0)
ltext(694, 337, 'Precipitation')
hline(86, 113, 355, color=C_NT_RZ, lw=1.8)
ltext(117, 355, 'No-Till_RZ')
hline(263, 290, 355, color=C_CT_RZ, lw=1.8)
ltext(295, 355, 'Conventional-Till_RZ')
fig.add_artist(Rectangle((650 / W, 1 - 361 / H), 38 / W, 12 / H, transform=fig.transFigure,
                         facecolor='#c4c4c4', edgecolor='#2b2b2b', lw=0.8))
ltext(694, 355, 'Irrigation')

# bottom legend
marker(175, 723, marker='o', ms=7, mfc='black', mec='black')
ltext(195, 723, 'No-Till Observed', 12)
hline(402, 438, 723, color=C_BLUE, lw=2)
ltext(450, 723, 'No-Till_RZ', 12)
marker(635, 723, marker='o', ms=7, mfc='white', mec='#555555', mew=0.7)
ltext(664, 723, 'Conventional-Till Observed', 12)
hline(937, 975, 723, color=C_RED, lw=2)
ltext(985, 723, 'Conventional-Till_RZ', 12)

fig.savefig('out.png', dpi=100)
